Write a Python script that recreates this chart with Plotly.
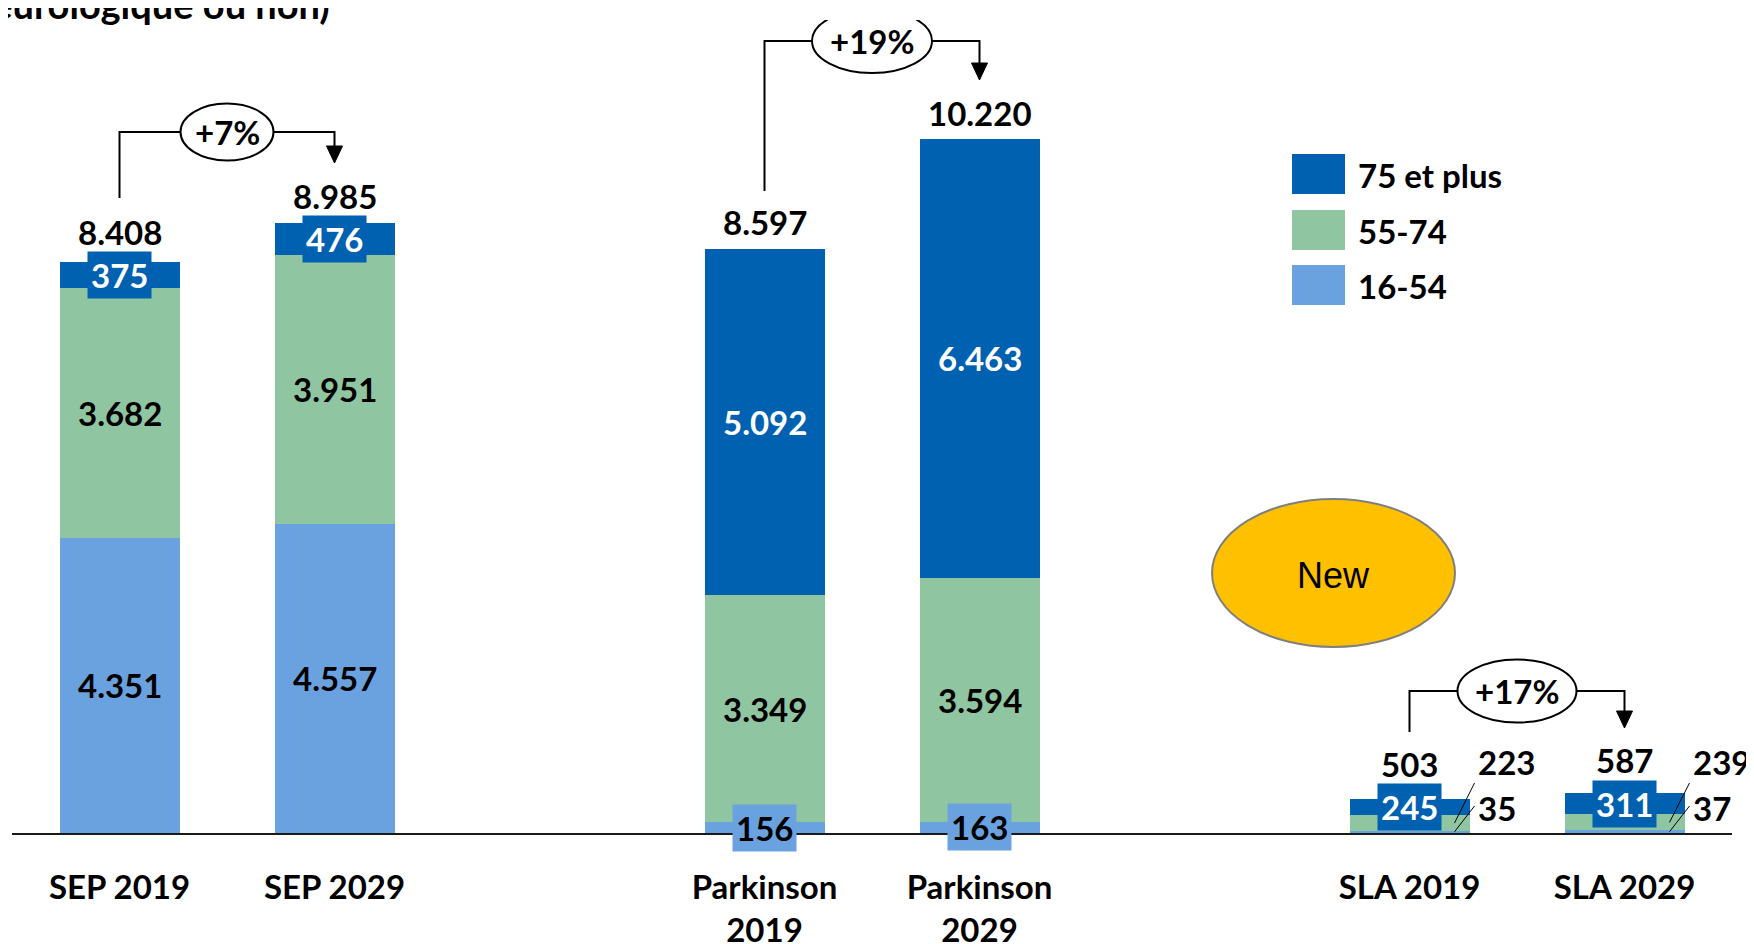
import plotly.graph_objects as go

# ---------------- data ----------------
categories = ["SEP 2019", "SEP 2029", "Parkinson<br>2019", "Parkinson<br>2029", "SLA 2019", "SLA 2029"]
x_pos = [0, 1, 3, 4, 6, 7]
age_16_54 = [4351, 4557, 156, 163, 35, 37]
age_55_74 = [3682, 3951, 3349, 3594, 223, 239]
age_75_plus = [375, 476, 5092, 6463, 245, 311]
totals = [8408, 8985, 8597, 10220, 503, 587]
series_names = ["16-54", "55-74", "75 et plus"]

# ---------------- layout / style constants ----------------
OFF = 8                     # default page body margin of the html page
W, H = 1754 - OFF, 944 - OFF
ML, MR, MT, MB = 12 - OFF, 22, 20 - OFF, 111
XR = [-0.5, 7.5]
PX_PER_Y = 0.0679
PLOT_W = W - ML - MR
PLOT_H = H - MT - MB
YMAX = PLOT_H / PX_PER_Y
PX_PER_X = PLOT_W / (XR[1] - XR[0])
PLOT_LEFT = ML + OFF          # on screen
PLOT_BOTTOM = MT + OFF + PLOT_H  # on screen

C_DARK = "#0061B1"
C_GREEN = "#8FC6A1"
C_LIGHT = "#6AA2E0"
colors = [C_LIGHT, C_GREEN, C_DARK]
FONT = "Lato, 'Open Sans', sans-serif"
FS = 33
BAR_W = 120 / PX_PER_X


def fmt(v):
    return f"{v:,}".replace(",", ".")


def dx(px):
    return px / PX_PER_X


def dy(px):
    return px / PX_PER_Y


def ydata(py):
    return (PLOT_BOTTOM - py) / PX_PER_Y


def paper_x(px):
    return (px - PLOT_LEFT) / PLOT_W


def paper_y(py):
    return (PLOT_BOTTOM - py) / PLOT_H


fig = go.Figure()
for name, vals, col in zip(series_names, [age_16_54, age_55_74, age_75_plus], colors):
    fig.add_trace(go.Bar(x=x_pos, y=vals, name=name, marker=dict(color=col, line=dict(width=0)),
                         width=BAR_W, showlegend=False, hoverinfo="skip"))

annotations = []
shapes = []

# segment labels
series = [age_16_54, age_55_74, age_75_plus]
for i, x in enumerate(x_pos):
    base = 0
    for s, vals in enumerate(series):
        v = vals[i]
        mid = base + v / 2
        base += v
        col = colors[s]
        txtcol = "white" if s == 2 else "black"
        if i >= 4 and s < 2:
            # outside label with leader line
            label_y_px = 762 if s == 1 else 807.5
            top_px = 783 if s == 1 else 806
            shapes.append(dict(type="line", xref="x", yref="y",
                               x0=x + dx(45), y0=mid, x1=x + dx(65), y1=ydata(top_px),
                               line=dict(color="black", width=1)))
            annotations.append(dict(x=x + dx(66), y=ydata(label_y_px), xref="x", yref="y",
                                    text=fmt(v), showarrow=False, xanchor="left", yanchor="middle",
                                    font=dict(family=FONT, size=FS, color="black", weight="bold")))
        elif v < 600:
            annotations.append(dict(x=x, y=mid, xref="x", yref="y", text=fmt(v), showarrow=False,
                                    xanchor="center", yanchor="middle", bgcolor=col, borderpad=3,
                                    font=dict(family=FONT, size=FS, color=txtcol, weight="bold")))
        else:
            annotations.append(dict(x=x, y=mid, xref="x", yref="y", text=fmt(v), showarrow=False,
                                    xanchor="center", yanchor="middle",
                                    font=dict(family=FONT, size=FS, color=txtcol, weight="bold")))

# totals
total_shift = [30, 27, 27, 26, 35, 33]
for i, x in enumerate(x_pos):
    annotations.append(dict(x=x, y=totals[i], xref="x", yref="y", text=fmt(totals[i]), showarrow=False,
                            xanchor="center", yanchor="middle", yshift=total_shift[i],
                            font=dict(family=FONT, size=FS, color="black", weight="bold")))

# growth brackets
brackets = [
    dict(a=0, b=1, start_px=198, top_px=132, tip_px=163, rx=46.5, ry=28.5),
    dict(a=2, b=3, start_px=191, top_px=41, tip_px=80, rx=60, ry=32),
    dict(a=4, b=5, start_px=732, top_px=691, tip_px=728, rx=59.5, ry=31.5),
]
for br in brackets:
    xa, xb = x_pos[br["a"]], x_pos[br["b"]]
    pct = round((totals[br["b"]] / totals[br["a"]] - 1) * 100)
    y_start = ydata(br["start_px"])
    y_top = ydata(br["top_px"])
    y_tip = ydata(br["tip_px"])
    y_head = y_tip + dy(17)
    shapes.append(dict(type="path", xref="x", yref="y",
                       path=f"M {xa},{y_start} L {xa},{y_top} L {xb},{y_top} L {xb},{y_head}",
                       line=dict(color="black", width=2)))
    shapes.append(dict(type="path", xref="x", yref="y",
                       path=f"M {xb - dx(8)},{y_head} L {xb + dx(8)},{y_head} L {xb},{y_tip} Z",
                       fillcolor="black", line=dict(color="black", width=1)))
    xc = (xa + xb) / 2
    shapes.append(dict(type="circle", xref="x", yref="y",
                       x0=xc - dx(br["rx"]), x1=xc + dx(br["rx"]),
                       y0=y_top - dy(br["ry"]), y1=y_top + dy(br["ry"]),
                       fillcolor="white", line=dict(color="black", width=2)))
    annotations.append(dict(x=xc, y=y_top, xref="x", yref="y", text=f"+{pct}%", showarrow=False,
                            xanchor="center", yanchor="middle",
                            font=dict(family=FONT, size=FS, color="black", weight="bold")))

# custom legend
legend_items = [("75 et plus", C_DARK, 154), ("55-74", C_GREEN, 210), ("16-54", C_LIGHT, 265)]
for label, col, top in legend_items:
    shapes.append(dict(type="rect", xref="paper", yref="paper",
                       x0=paper_x(1292), x1=paper_x(1345), y0=paper_y(top + 40), y1=paper_y(top),
                       fillcolor=col, line=dict(width=0)))
    annotations.append(dict(x=paper_x(1356), y=paper_y(top + 21), xref="paper", yref="paper", text=label,
                            showarrow=False, xanchor="left", yanchor="middle",
                            font=dict(family=FONT, size=FS, color="black", weight="bold")))

# "New" ellipse
shapes.append(dict(type="circle", xref="paper", yref="paper",
                   x0=paper_x(1212), x1=paper_x(1455), y0=paper_y(647), y1=paper_y(499),
                   fillcolor="#FFC000", line=dict(color="#7F7F7F", width=2)))
annotations.append(dict(x=paper_x(1333.5), y=paper_y(575), xref="paper", yref="paper", text="New",
                        showarrow=False, xanchor="center", yanchor="middle",
                        font=dict(family="'Liberation Sans', Arial, sans-serif", size=36, color="black")))

# cut-off title fragment at top
annotations.append(dict(x=paper_x(332), y=paper_y(4), xref="paper", yref="paper",
                        text="(patients avec un suivi neurologique ou non)", showarrow=False,
                        xanchor="right", yanchor="middle",
                        font=dict(family=FONT, size=38, color="black", weight="bold")))

fig.update_layout(
    barmode="stack",
    width=W, height=H,
    margin=dict(l=ML, r=MR, t=MT, b=MB, pad=0, autoexpand=False),
    paper_bgcolor="white", plot_bgcolor="white",
    showlegend=False,
    xaxis=dict(range=XR, tickvals=x_pos, ticktext=categories, showgrid=False, zeroline=False,
               showline=True, linecolor="#1a1a1a", linewidth=2, ticks="", automargin=False,
               tickfont=dict(family=FONT, size=FS, color="black", weight="bold"),
               ticklabelstandoff=24, fixedrange=True),
    yaxis=dict(range=[0, YMAX], visible=False, showgrid=False, zeroline=False, fixedrange=True,
               automargin=False),
    shapes=shapes,
    annotations=annotations,
)

fig.write_html("out.html")
